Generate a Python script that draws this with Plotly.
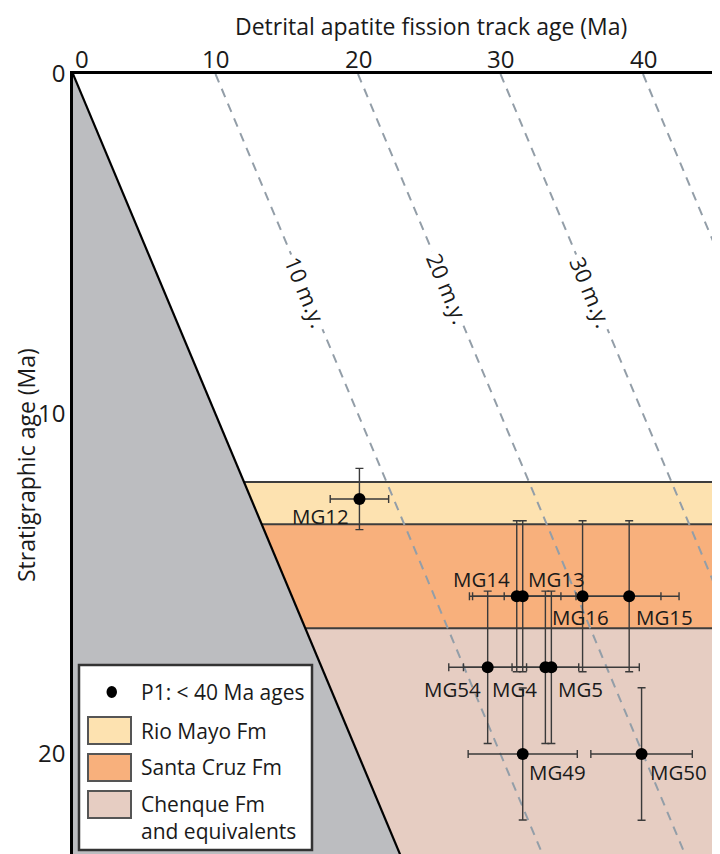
import plotly.graph_objects as go

# ---------------- data ----------------
aft_ticks = [0, 10, 20, 30, 40]
strat_ticks = [0, 10, 20]

lag_times = [10, 20, 30, 40]
lag_labels = ["10 m.y.", "20 m.y.", "30 m.y."]
lag_label_strat = [6.4, 6.3, 6.4]

formation_names = ["Rio Mayo Fm", "Santa Cruz Fm", "Chenque Fm"]
formation_top = [12.0, 13.24, 16.3]
formation_base = [13.24, 16.3, 24.0]

samples = ["MG12", "MG14", "MG13", "MG16", "MG15", "MG54", "MG4", "MG5", "MG49", "MG50"]
aft_age = [20.1, 31.14, 31.56, 35.76, 39.03, 29.1, 33.15, 33.57, 31.56, 39.9]
aft_err = [2.05, 3.1, 3.74, 5.5, 3.5, 2.73, 2.34, 6.17, 3.83, 3.56]
strat_age = [12.5, 15.36, 15.36, 15.36, 15.36, 17.45, 17.45, 17.45, 20.0, 20.0]
strat_err = [0.9, 2.22, 2.22, 2.22, 2.22, 2.24, 2.24, 2.24, 1.94, 1.95]

# ---------------- styles ----------------
formation_colors = ["#fde2b0", "#f8b07c", "#e6cdc2"]
FONT = "Open Sans"
TXT = "#1a1a1a"
# label placement: (xanchor, xshift, yshift)
label_place = {
    "MG12": ("right", -8, -17),
    "MG14": ("right", -5, 17),
    "MG13": ("left", 3, 17),
    "MG16": ("left", -33, -21),
    "MG15": ("left", 5, -21),
    "MG54": ("right", -5, -22),
    "MG4": ("right", -6, -22),
    "MG5": ("left", 5, -22),
    "MG49": ("left", 4, -18),
    "MG50": ("left", 6, -18),
}

PAGE_OFF = 8  # default body margin of the html page
W, H = 720, 854
L_M, T_M = 73, 74
X_MAX = (W - L_M) / 14.25
Y_MAX = (H - T_M) / 34.0
EXT = 30


def px(x):
    return (x - L_M) / (W - L_M)


def py(y):
    return (H - y) / (H - T_M)


fig = go.Figure()
shapes = []
annots = []

# formation bands
for name, top, base, col in zip(formation_names, formation_top, formation_base, formation_colors):
    shapes.append(dict(type="rect", xref="x", yref="y", x0=0, x1=X_MAX + 5, y0=top, y1=base,
                       fillcolor=col, line=dict(width=0), layer="below"))
for top in formation_top:
    shapes.append(dict(type="line", xref="x", yref="y", x0=top, x1=X_MAX + 5, y0=top, y1=top,
                       line=dict(color="#3d3d3d", width=2), layer="below"))

# grey triangle (AFT age younger than depositional age)
shapes.append(dict(type="path", xref="x", yref="y",
                   path=f"M 0,0 L {EXT},{EXT} L 0,{EXT} Z",
                   fillcolor="#bcbdc0", line=dict(width=0), layer="below"))
shapes.append(dict(type="line", xref="x", yref="y", x0=0, y0=0, x1=EXT, y1=EXT,
                   line=dict(color="black", width=2.2), layer="below"))

# lag time lines
for lag in lag_times:
    fig.add_trace(go.Scatter(x=[lag, lag + EXT], y=[0, EXT], mode="lines",
                             line=dict(color="#939ea8", width=2, dash="9px,7px"),
                             hoverinfo="skip", showlegend=False))
for lag, lab, s in zip(lag_times, lag_labels, lag_label_strat):
    annots.append(dict(x=lag + s, y=s, xref="x", yref="y", text=lab, showarrow=False,
                       textangle=67.3, bgcolor="white", borderpad=3,
                       font=dict(family=FONT, size=22, color=TXT)))

# samples
fig.add_trace(go.Scatter(
    x=aft_age, y=strat_age, mode="markers",
    marker=dict(color="black", size=12),
    error_x=dict(type="data", array=aft_err, color="#3a3a3a", thickness=1.4, width=4),
    error_y=dict(type="data", array=strat_err, color="#3a3a3a", thickness=1.4, width=4),
    showlegend=False, hoverinfo="skip"))
for s, xa, ya in zip(samples, aft_age, strat_age):
    anc, xs, ys = label_place[s]
    annots.append(dict(x=xa, y=ya, xref="x", yref="y", text=s, showarrow=False,
                       xanchor=anc, yanchor="middle", xshift=xs, yshift=ys,
                       font=dict(family=FONT, size=20.5, color=TXT)))

# x tick labels (top)
for t in aft_ticks:
    annots.append(dict(x=t, y=py(58), xref="x", yref="paper", text=str(t), showarrow=False,
                       xanchor="left" if t == 0 else "center", yanchor="middle",
                       font=dict(family=FONT, size=24, color=TXT)))

# axis titles
annots.append(dict(x=px(431), y=py(PAGE_OFF + 1), xref="paper", yref="paper",
                   text="Detrital apatite fission track age (Ma)", showarrow=False,
                   xanchor="center", yanchor="top", borderpad=0,
                   font=dict(family=FONT, size=23, color=TXT)))
annots.append(dict(x=px(PAGE_OFF + 1), y=py(465), xref="paper", yref="paper",
                   text="Stratigraphic age (Ma)", showarrow=False, textangle=-90,
                   xanchor="left", yanchor="middle", borderpad=0,
                   font=dict(family=FONT, size=23, color=TXT)))

# legend box
shapes.append(dict(type="rect", xref="paper", yref="paper", x0=px(79), x1=px(312),
                   y0=py(850), y1=py(665), fillcolor="white",
                   line=dict(color="#333333", width=2.5), layer="above"))
shapes.append(dict(type="circle", xref="paper", yref="paper", x0=px(106.5), x1=px(117),
                   y0=py(698), y1=py(686), fillcolor="black", line=dict(width=0), layer="above"))
annots.append(dict(x=px(139), y=py(692), xref="paper", yref="paper",
                   text="P1: &lt; 40 Ma ages", showarrow=False, xanchor="left", yanchor="middle",
                   font=dict(family=FONT, size=21, color=TXT)))
sw_top = [717, 754, 791]
sw_bot = [744, 781, 818]
leg_text = ["Rio Mayo Fm", "Santa Cruz Fm", "Chenque Fm<br>and equivalents"]
for i in range(3):
    shapes.append(dict(type="rect", xref="paper", yref="paper", x0=px(88), x1=px(131),
                       y0=py(sw_bot[i]), y1=py(sw_top[i]), fillcolor=formation_colors[i],
                       line=dict(color="#555555", width=2), layer="above"))
annots.append(dict(x=px(139), y=py(731), xref="paper", yref="paper", text=leg_text[0],
                   showarrow=False, xanchor="left", yanchor="middle",
                   font=dict(family=FONT, size=21, color=TXT)))
annots.append(dict(x=px(139), y=py(767), xref="paper", yref="paper", text=leg_text[1],
                   showarrow=False, xanchor="left", yanchor="middle",
                   font=dict(family=FONT, size=21, color=TXT)))
annots.append(dict(x=px(139), y=py(817), xref="paper", yref="paper", text=leg_text[2],
                   showarrow=False, xanchor="left", yanchor="middle", align="left",
                   font=dict(family=FONT, size=21, color=TXT)))

fig.update_layout(
    width=W - PAGE_OFF, height=H - PAGE_OFF,
    margin=dict(l=L_M - PAGE_OFF, r=0, t=T_M - PAGE_OFF, b=0, pad=0),
    paper_bgcolor="white", plot_bgcolor="white",
    shapes=shapes, annotations=annots,
    showlegend=False,
    xaxis=dict(range=[0, X_MAX], side="top", showgrid=False, zeroline=False,
               showticklabels=False, ticks="", showline=True, linecolor="black", linewidth=3),
    yaxis=dict(range=[Y_MAX, 0], showgrid=False, zeroline=False, tickvals=strat_ticks,
               ticks="", showline=True, linecolor="black", linewidth=2.5,
               tickfont=dict(family=FONT, size=24, color=TXT)),
)

fig.write_html("out.html")
